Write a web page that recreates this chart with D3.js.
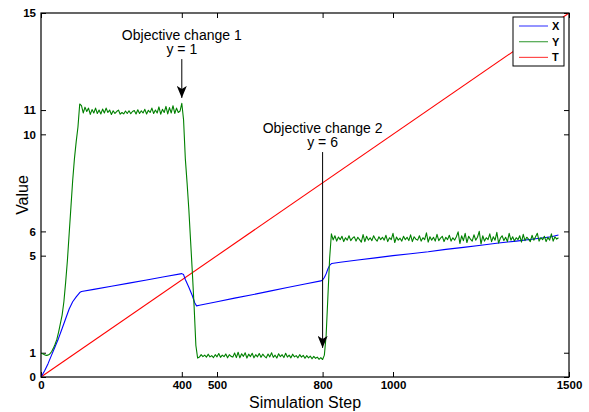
<!DOCTYPE html>
<html>
<head>
<meta charset="utf-8">
<script src="https://cdn.jsdelivr.net/npm/d3@7/dist/d3.min.js"></script>
<style>
  html, body { margin: 0; padding: 0; background: #fff; }
  svg { display: block; }
  text { font-family: "Liberation Sans", Arial, Helvetica, sans-serif; }
</style>
</head>
<body>
<svg id="chart" width="589" height="412"></svg>
<script>
// ---------- data ----------
const xTicks = [0, 400, 500, 800, 1000, 1500];
const yTicks = [0, 1, 5, 6, 10, 11, 15];

const seriesNames = ["X", "Y", "T"];
const seriesColors = ["#0000ff", "#008000", "#ff0000"];

// X (blue)
const stepsX = [0, 10, 20, 30, 40, 50, 60, 70, 80, 90, 100, 110, 115, 150, 200, 250, 300, 350, 400, 405, 410, 420, 430, 437, 442,
  450, 500, 550, 600, 650, 700, 750, 795, 800, 805, 810, 815, 820, 826, 850, 900, 950, 1000, 1050, 1100, 1150, 1200, 1250,
  1300, 1350, 1400, 1450, 1470];
const valuesX = [0, 0.25, 0.55, 0.9, 1.25, 1.6, 2.0, 2.4, 2.8, 3.1, 3.3, 3.48, 3.52, 3.61, 3.74, 3.87, 4.0, 4.13, 4.26, 4.22, 4.02, 3.7, 3.35, 3.05, 2.93,
  2.96, 3.1, 3.25, 3.39, 3.54, 3.69, 3.83, 3.96, 4.0, 4.1, 4.25, 4.45, 4.6, 4.68, 4.73, 4.82, 4.91, 5.0, 5.08, 5.16, 5.26, 5.34, 5.43,
  5.52, 5.6, 5.69, 5.78, 5.85];

// Y (green), sampled every 5 steps from 0 to 1470
const stepY = 5;
const valuesY = [
  0.98,0.96,0.92,0.89,0.9,0.95,1.04,1.18,1.35,1.55,1.85,2.2,2.55,3.1,3.9,4.8,5.9,7.0,8.1,9.0,9.7,10.3,11.25,
  11.18,10.88,11.12,10.94,11.08,10.82,11.02,10.88,11.08,10.86,
  11.0,10.84,11.04,10.88,11.08,10.9,11.0,10.82,10.97,10.86,
  10.94,11.0,10.83,10.9,10.84,10.96,10.86,10.97,10.85,10.94,
  10.98,10.84,11.01,10.86,10.97,10.88,11.03,10.84,10.99,10.9,
  11.08,10.86,11.0,10.88,11.13,10.83,11.03,10.9,11.15,10.84,
  11.1,10.88,11.18,10.86,11.08,10.9,10.96,11.28,
  10.6,9.0,8.0,6.9,5.6,4.3,2.9,1.3,0.78,
  0.82,0.92,0.84,0.9,0.82,0.94,0.83,0.88,0.8,0.92,
  0.83,0.97,0.81,0.9,0.84,0.95,0.79,0.92,0.85,0.82,
  0.99,0.8,1.02,0.79,0.96,0.85,1.0,0.78,0.94,0.84,
  0.98,0.79,0.92,0.83,0.97,0.81,0.94,0.85,0.79,0.95,
  0.83,1.0,0.81,0.9,0.78,0.96,0.84,0.92,0.8,0.98,
  0.82,0.9,0.79,0.94,0.83,0.88,0.79,0.92,0.82,0.89,
  0.77,0.88,0.79,0.86,0.75,0.85,0.77,0.82,0.73,0.8,
  0.72,
  0.9,1.7,3.3,4.9,5.9,5.65,
  5.82,5.6,5.77,5.66,5.8,5.58,5.74,5.64,5.82,5.62,
  5.72,5.78,5.6,5.76,5.66,5.56,5.87,5.58,5.8,5.64,
  5.74,5.62,5.82,5.68,5.6,5.78,5.66,5.76,5.64,5.84,
  5.58,5.74,5.66,5.92,5.54,5.77,5.64,5.72,5.6,5.8,
  5.66,5.76,5.62,5.86,5.58,5.78,5.68,5.64,5.82,5.6,
  5.74,5.66,5.94,5.56,5.78,5.64,5.76,5.6,5.88,5.62,
  5.72,5.8,5.58,5.76,5.66,5.84,5.6,5.74,5.64,5.78,
  5.98,5.5,5.82,5.62,5.92,5.54,5.8,5.68,5.6,5.86,
  5.64,5.76,6.0,5.48,5.82,5.6,5.74,5.66,5.9,5.58,
  5.78,5.64,5.96,5.52,5.72,5.82,5.62,5.76,5.58,5.92,
  5.64,5.78,5.6,5.74,5.66,5.82,5.56,5.88,5.62,5.76,
  5.68,5.58,5.84,5.64,5.78,5.92,5.6,5.74,5.66,5.8,
  5.58,5.76,5.64,5.9,5.6,5.78,5.68,5.74
];

// T (red)
const stepsT = [0, 1500];
const valuesT = [0, 15];

// annotations
const annotations = [
  { lines: ["Objective change 1", "y = 1"], step: 400, from: 13.1, to: 11.5 },
  { lines: ["Objective change 2", "y = 6"], step: 800, from: 9.27, to: 1.2 }
];

// ---------- layout ----------
const svg = d3.select("#chart");
const m = { left: 41, right: 20, top: 13, bottom: 35 };
const W = 589, H = 412;
const iw = W - m.left - m.right, ih = H - m.top - m.bottom;

const x = d3.scaleLinear().domain([0, 1500]).range([m.left, m.left + iw]);
const y = d3.scaleLinear().domain([0, 15]).range([m.top + ih, m.top]);

svg.append("defs").append("clipPath").attr("id", "clip")
  .append("rect").attr("x", m.left).attr("y", m.top).attr("width", iw).attr("height", ih);

svg.append("rect").attr("x", m.left).attr("y", m.top).attr("width", iw).attr("height", ih).attr("fill", "#fff");

// axes
const fontTick = "bold 11.5px 'Liberation Sans', Arial, sans-serif";
const fmt = d3.format("d");
const gB = svg.append("g").attr("transform", `translate(0,${m.top + ih})`)
  .call(d3.axisBottom(x).tickValues(xTicks).tickFormat(fmt).tickSizeInner(-5).tickSizeOuter(0).tickPadding(4));
const gL = svg.append("g").attr("transform", `translate(${m.left},0)`)
  .call(d3.axisLeft(y).tickValues(yTicks).tickFormat(fmt).tickSizeInner(-5).tickSizeOuter(0).tickPadding(5));
const gT = svg.append("g").attr("transform", `translate(0,${m.top})`)
  .call(d3.axisTop(x).tickValues(xTicks).tickSizeInner(-5).tickSizeOuter(0).tickFormat(""));
const gR = svg.append("g").attr("transform", `translate(${m.left + iw},0)`)
  .call(d3.axisRight(y).tickValues(yTicks).tickSizeInner(-5).tickSizeOuter(0).tickFormat(""));
[gB, gL, gT, gR].forEach(g => {
  g.select(".domain").remove();
  g.selectAll(".tick line").attr("stroke", "#000").attr("stroke-width", 1);
  g.selectAll(".tick text").style("font", fontTick).attr("fill", "#000");
});

// lines
const plot = svg.append("g").attr("clip-path", "url(#clip)");
const line = d3.line().x(d => x(d[0])).y(d => y(d[1]));
const dataX = stepsX.map((s, i) => [s, valuesX[i]]);
const dataY = valuesY.map((v, i) => [i * stepY, v]);
const dataT = stepsT.map((s, i) => [s, valuesT[i]]);
[dataT, dataX, dataY].forEach((d, k) => {
  const ci = [2, 0, 1][k];
  plot.append("path").datum(d).attr("d", line)
    .attr("fill", "none").attr("stroke", seriesColors[ci]).attr("stroke-width", 1.1)
    .attr("stroke-linejoin", "round");
});

// frame
svg.append("rect").attr("x", m.left).attr("y", m.top).attr("width", iw).attr("height", ih)
  .attr("fill", "none").attr("stroke", "#000").attr("stroke-width", 1.2);

// axis labels
svg.append("text").attr("x", m.left + iw / 2).attr("y", 408).attr("text-anchor", "middle")
  .style("font-size", "16px").text("Simulation Step");
svg.append("text").attr("transform", `translate(28,${m.top + ih / 2}) rotate(-90)`)
  .attr("text-anchor", "middle").style("font-size", "16px").text("Value");

// annotations
const defs = svg.select("defs");
defs.append("marker").attr("id", "arrow").attr("viewBox", "0 0 10 12").attr("refX", 5).attr("refY", 12)
  .attr("markerWidth", 10).attr("markerHeight", 12).attr("markerUnits", "userSpaceOnUse").attr("orient", "0")
  .append("path").attr("d", "M0,0 L5,3 L10,0 L5,12 Z").attr("fill", "#000");
annotations.forEach(a => {
  const ax = x(a.step);
  const yTop = y(a.from);
  svg.append("text").attr("x", ax).attr("y", yTop - 19.5).attr("text-anchor", "middle")
    .style("font-size", "14px").text(a.lines[0]);
  svg.append("text").attr("x", ax).attr("y", yTop - 5).attr("text-anchor", "middle")
    .style("font-size", "14px").text(a.lines[1]);
  svg.append("line").attr("x1", ax).attr("x2", ax).attr("y1", yTop).attr("y2", y(a.to))
    .attr("stroke", "#000").attr("stroke-width", 1).attr("marker-end", "url(#arrow)");
});

// legend
const lg = svg.append("g").attr("transform", "translate(513,17)");
lg.append("rect").attr("width", 51).attr("height", 49).attr("fill", "#fff").attr("stroke", "#000").attr("stroke-width", 1);
seriesNames.forEach((n, i) => {
  const yy = 9 + i * 15.7;
  lg.append("line").attr("x1", 6).attr("x2", 35).attr("y1", yy).attr("y2", yy)
    .attr("stroke", seriesColors[i]).attr("stroke-opacity", 0.7).attr("stroke-width", 1.2);
  lg.append("text").attr("x", 39).attr("y", yy + 4).style("font", "bold 11px 'Liberation Sans', Arial, sans-serif").text(n);
});
</script>
</body>
</html>
